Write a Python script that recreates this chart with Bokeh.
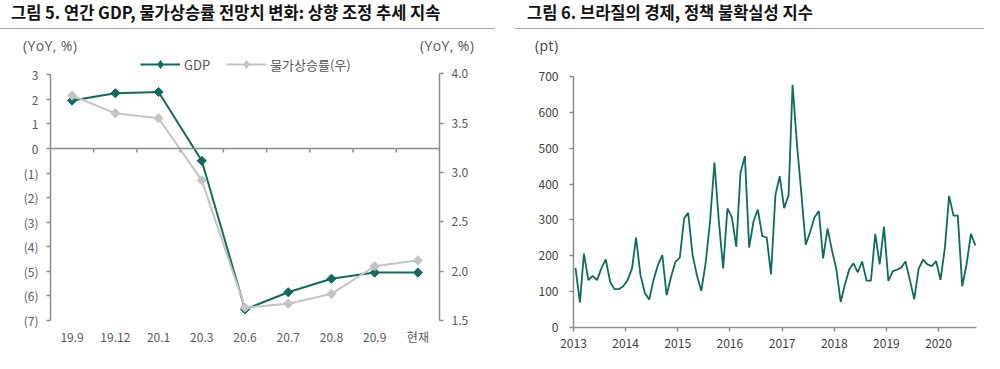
import pandas as pd
from bokeh.plotting import figure
from bokeh.models import (Range1d, FactorRange, LinearAxis, FixedTicker, NumeralTickFormatter,
                          CustomJSTickFormatter, Legend, LegendItem, Div, Span,
                          ColumnDataSource, DatetimeTickFormatter)
from bokeh.layouts import row, column
from bokeh.transform import dodge
from bokeh.embed import file_html
from bokeh.resources import INLINE

FONT = "Noto Sans CJK KR"
GREEN = "#0f6b5d"
GRAY = "#c3c3c3"
AXIS = "#8c8c8c"

# ---------------- data: left chart ----------------
left_title = "그림 5. 연간 GDP, 물가상승률 전망치 변화: 상향 조정 추세 지속"
periods = ["19.9", "19.12", "20.1", "20.3", "20.6", "20.7", "20.8", "20.9", "현재"]
gdp = [1.95, 2.25, 2.3, -0.5, -6.55, -5.85, -5.3, -5.05, -5.05]
cpi = [3.78, 3.60, 3.55, 2.92, 1.63, 1.67, 1.77, 2.05, 2.11]
left_ticks = [-7, -6, -5, -4, -3, -2, -1, 0, 1, 2, 3]
right_ticks = [1.5, 2.0, 2.5, 3.0, 3.5, 4.0]
gdp_name = "GDP"
cpi_name = "물가상승률(우)"
unit_left = "(YoY, %)"
unit_right = "(YoY, %)"

# ---------------- data: right chart ----------------
right_title = "그림 6. 브라질의 경제, 정책 불확실성 지수"
first_month = "2013-01-01"
epu = [166, 70, 206, 132, 144, 132, 165, 190, 127, 107, 107, 115,
       132, 165, 251, 146, 97, 78, 132, 174, 202, 90, 141, 183,
       194, 304, 320, 202, 146, 102, 179, 295, 460, 300, 165, 332,
       307, 225, 430, 478, 223, 297, 329, 255, 251, 148, 370, 422,
       333, 369, 677, 510, 376, 231, 265, 307, 325, 193, 276, 217,
       164, 71, 117, 161, 179, 154, 184, 131, 131, 261, 176, 281,
       130, 157, 161, 167, 184, 131, 79, 164, 189, 176, 171, 185,
       133, 224, 367, 312, 312, 115, 175, 261, 229]
years = [2013, 2014, 2015, 2016, 2017, 2018, 2019, 2020]
epu_ticks = [0, 100, 200, 300, 400, 500, 600, 700]
unit_pt = "(pt)"


def style_axis(ax, color="#595959"):
    ax.axis_line_color = AXIS
    ax.axis_line_width = 1.5
    ax.major_tick_line_color = AXIS
    ax.major_tick_line_width = 1.5
    ax.major_tick_out = 4
    ax.major_tick_in = 0
    ax.minor_tick_line_color = None
    ax.major_label_text_font = FONT
    ax.major_label_text_font_size = "12px"
    ax.major_label_text_color = color


def header_div(title, indent, pad, line_w, units_html, unit_color):
    html = (
        '<div style="font-family:\'Noto Sans CJK KR\';">'
        '<div style="font-weight:bold;font-size:16.5px;line-height:24px;height:28px;color:#111;'
        f'white-space:nowrap;box-sizing:content-box;margin-left:{indent}px;padding-left:{pad}px;'
        f'width:{line_w - pad}px;border-bottom:1.5px solid #a6a6a6;">{title}</div>'
        '<div style="display:flex;font-family:\'Open Sans\';font-size:14px;letter-spacing:0.4px;'
        f'line-height:14px;margin-top:10px;color:{unit_color};white-space:nowrap;">{units_html}</div></div>')
    return Div(text=html, width=500 if indent == 0 else 484, height=54, margin=0)


# ---------------- left chart ----------------
pl = figure(width=500, height=299, x_range=FactorRange(factors=periods), y_range=Range1d(-7, 3.826),
            output_backend="svg", toolbar_location=None,
            min_border_left=50, min_border_right=61, min_border_top=0, min_border_bottom=33)
pl.extra_y_ranges = {"cpi": Range1d(1.5, 4.196)}
pl.xgrid.grid_line_color = None
pl.ygrid.grid_line_color = None
pl.outline_line_color = None

ya = pl.yaxis[0]
style_axis(ya)
ya.bounds = (-7, 3)
ya.ticker = FixedTicker(ticks=left_ticks)
ya.formatter = CustomJSTickFormatter(code="return tick < 0 ? '(' + Math.abs(tick) + ')' : String(tick);")
ya.major_label_standoff = 8

ra = LinearAxis(y_range_name="cpi")
style_axis(ra)
ra.bounds = (1.5, 4.0)
ra.ticker = FixedTicker(ticks=right_ticks)
ra.formatter = NumeralTickFormatter(format="0.0")
ra.major_label_standoff = 8
pl.add_layout(ra, "right")

xa = pl.xaxis[0]
style_axis(xa)
xa.axis_line_color = None
xa.major_tick_line_color = None
xa.major_tick_out = 0
xa.major_label_standoff = 7

pl.add_layout(Span(location=0, dimension="width", line_color=AXIS, line_width=1.5))
bsrc = ColumnDataSource(dict(p=periods[1:]))
pl.segment(x0=dodge("p", -0.5, range=pl.x_range), x1=dodge("p", -0.5, range=pl.x_range),
           y0=0, y1=-0.163, source=bsrc, line_color=AXIS, line_width=1.5)

src = ColumnDataSource(dict(period=periods, gdp=gdp, cpi=cpi))
g_line = pl.line("period", "gdp", source=src, line_color=GREEN, line_width=2)
# tiny diamonds underneath the real markers; they only serve as the legend's key symbol
g_key = pl.scatter("period", "gdp", source=src, marker="diamond", size=1,
                   fill_color=GREEN, line_color=GREEN)
g_pts = pl.scatter("period", "gdp", source=src, marker="square", angle=0.7854, size=6.5,
                   fill_color=GREEN, line_color=GREEN, line_width=1)
c_line = pl.line("period", "cpi", source=src, y_range_name="cpi", line_color=GRAY, line_width=2)
c_key = pl.scatter("period", "cpi", source=src, y_range_name="cpi", marker="diamond", size=1,
                   fill_color=GRAY, line_color=GRAY)
c_pts = pl.scatter("period", "cpi", source=src, y_range_name="cpi", marker="square", angle=0.7854,
                   size=6.5, fill_color=GRAY, line_color=GRAY, line_width=1)

legend = Legend(items=[LegendItem(label=gdp_name, renderers=[g_line, g_key]),
                       LegendItem(label=cpi_name, renderers=[c_line, c_key])],
                location=(90, 246), orientation="horizontal", padding=0, margin=0, spacing=16,
                glyph_width=40, glyph_height=20, label_height=16, label_standoff=4,
                label_text_font=FONT, label_text_font_size="13px", label_text_color="#595959",
                border_line_color=None, background_fill_alpha=0)
pl.add_layout(legend)

left_units = (f'<span style="margin-left:23px;width:397px;">{unit_left}</span>'
              f'<span>{unit_right}</span>')

# ---------------- right chart ----------------
months = pd.date_range(first_month, periods=len(epu), freq="MS") + pd.Timedelta(days=14)
rsrc = ColumnDataSource(dict(month=months, epu=epu))
pr = figure(width=484, height=299, x_axis_type="datetime",
            x_range=Range1d(pd.Timestamp("2013-01-01"), pd.Timestamp("2020-09-23")),
            y_range=Range1d(0, 700), output_backend="svg", toolbar_location=None,
            min_border_left=73, min_border_right=8, min_border_top=22, min_border_bottom=26)
pr.xgrid.grid_line_color = None
pr.ygrid.grid_line_color = None
pr.outline_line_color = None
pr.line("month", "epu", source=rsrc, line_color=GREEN, line_width=1.8)

rx = pr.xaxis[0]
style_axis(rx, "#404040")
rx.ticker = FixedTicker(ticks=[pd.Timestamp(f"{y}-01-01").value / 1e6 for y in years])
rx.formatter = DatetimeTickFormatter(years="%Y", months="%Y", days="%Y", hours="%Y")
rx.major_label_standoff = 7

ry = pr.yaxis[0]
style_axis(ry, "#404040")
ry.ticker = FixedTicker(ticks=epu_ticks)
ry.major_label_standoff = 11

right_units = f'<span style="margin-left:35px;">{unit_pt}</span>'

layout = row(column(header_div(left_title, 0, 11, 495, left_units, "#595959"), pl),
             column(header_div(right_title, 15, 12, 469, right_units, "#404040"), pr))

open("out.html", "w").write(file_html(layout, INLINE))
